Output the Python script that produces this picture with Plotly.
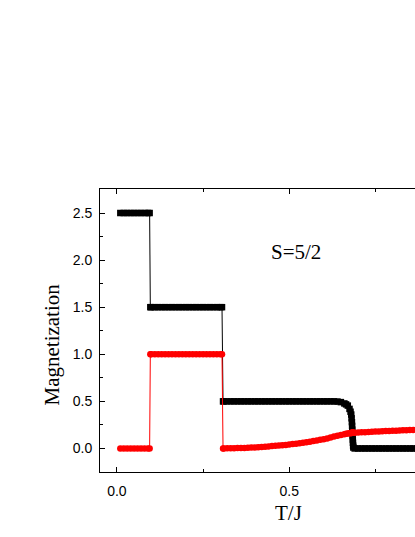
import plotly.graph_objects as go

# temperature points T/J
t_over_j = [0.01, 0.02, 0.03, 0.04, 0.05, 0.06, 0.07, 0.08, 0.09, 0.095,
            0.097, 0.10, 0.11, 0.12, 0.13, 0.14, 0.15, 0.16, 0.17, 0.18, 0.19, 0.20,
            0.21, 0.22, 0.23, 0.24, 0.25, 0.26, 0.27, 0.28, 0.29, 0.30, 0.305,
            0.308, 0.31, 0.32, 0.33, 0.34, 0.35, 0.36, 0.37, 0.38, 0.39, 0.40,
            0.41, 0.42, 0.43, 0.44, 0.45, 0.46, 0.47, 0.48, 0.49, 0.50,
            0.51, 0.52, 0.53, 0.54, 0.55, 0.56, 0.57, 0.58, 0.59, 0.60,
            0.61, 0.62, 0.63, 0.64, 0.65, 0.66, 0.665, 0.67, 0.675, 0.678, 0.68,
            0.681, 0.682, 0.6825, 0.683, 0.6835, 0.684, 0.6845, 0.685, 0.6855, 0.686,
            0.69, 0.70, 0.71, 0.72, 0.73, 0.74,
            0.75, 0.76, 0.77, 0.78, 0.79, 0.80, 0.81, 0.82, 0.83, 0.84,
            0.85, 0.86, 0.87]

# black squares
mag_black = [2.5, 2.5, 2.5, 2.5, 2.5, 2.5, 2.5, 2.5, 2.5, 2.5,
             1.5, 1.5, 1.5, 1.5, 1.5, 1.5, 1.5, 1.5, 1.5, 1.5, 1.5, 1.5,
             1.5, 1.5, 1.5, 1.5, 1.5, 1.5, 1.5, 1.5, 1.5, 1.5, 1.5,
             0.5, 0.5, 0.5, 0.5, 0.5, 0.5, 0.5, 0.5, 0.5, 0.5, 0.5,
             0.5, 0.5, 0.5, 0.5, 0.5, 0.5, 0.5, 0.5, 0.5, 0.5,
             0.5, 0.5, 0.5, 0.5, 0.5, 0.5, 0.5, 0.5, 0.5, 0.5,
             0.5, 0.5, 0.5, 0.498, 0.492, 0.478, 0.468, 0.455, 0.42, 0.39, 0.36,
             0.32, 0.28, 0.24, 0.20, 0.165, 0.13, 0.095, 0.06, 0.03, 0.01,
             0.0, 0.0, 0.0, 0.0, 0.0, 0.0,
             0.0, 0.0, 0.0, 0.0, 0.0, 0.0, 0.0, 0.0, 0.0, 0.0,
             0.0, 0.0, 0.0]

# red circles
mag_red = [0.0, 0.0, 0.0, 0.0, 0.0, 0.0, 0.0, 0.0, 0.0, 0.0,
           1.0, 1.0, 1.0, 1.0, 1.0, 1.0, 1.0, 1.0, 1.0, 1.0, 1.0, 1.0,
           1.0, 1.0, 1.0, 1.0, 1.0, 1.0, 1.0, 1.0, 1.0, 1.0, 1.0,
           0.0, 0.0, 0.001, 0.002, 0.003, 0.004, 0.005, 0.006, 0.007, 0.009, 0.011,
           0.013, 0.016, 0.019, 0.022, 0.025, 0.028, 0.031, 0.035, 0.038, 0.042,
           0.046, 0.050, 0.055, 0.060, 0.066, 0.072, 0.078, 0.085, 0.092, 0.099,
           0.107, 0.116, 0.126, 0.135, 0.144, 0.152, 0.156, 0.159, 0.162, 0.164, 0.165,
           0.165, 0.166, 0.166, 0.166, 0.166, 0.166, 0.166, 0.166, 0.166, 0.166,
           0.167, 0.169, 0.171, 0.173, 0.175, 0.177,
           0.179, 0.181, 0.183, 0.185, 0.186, 0.188, 0.189, 0.191, 0.192, 0.194,
           0.195, 0.197, 0.198]

serif = "Liberation Serif, Times New Roman, serif"
sans = "Liberation Sans, Arial, sans-serif"

fig = go.Figure()
fig.add_trace(go.Scatter(
    x=t_over_j, y=mag_black, mode="lines+markers",
    line=dict(color="black", width=1),
    marker=dict(symbol="square", size=6.5, color="black"),
    showlegend=False,
))
fig.add_trace(go.Scatter(
    x=t_over_j, y=mag_red, mode="lines+markers",
    line=dict(color="red", width=1),
    marker=dict(symbol="circle", size=6.5, color="red"),
    showlegend=False,
))

axis_common = dict(
    showline=True, linecolor="black", linewidth=1,
    ticks="inside", ticklen=5, tickcolor="black", tickwidth=1,
    showgrid=False, zeroline=False,
    tickfont=dict(family=sans, size=14, color="black"),
)

fig.update_layout(
    width=415, height=537,
    margin=dict(l=100, r=0, t=189, b=65),
    paper_bgcolor="white", plot_bgcolor="white",
    xaxis=dict(range=[-0.049, 0.865], tickvals=[0.0, 0.5, 1.0], ticktext=["0.0", "0.5", "1.0"],
               minor=dict(tickvals=[0.25, 0.75], ticks="inside", ticklen=3, tickcolor="black"),
               ticklabelstandoff=6, mirror="ticks", **axis_common),
    yaxis=dict(range=[-0.25, 2.755], tickvals=[0.0, 0.5, 1.0, 1.5, 2.0, 2.5],
               ticktext=["0.0", "0.5", "1.0", "1.5", "2.0", "2.5"],
               minor=dict(tickvals=[-0.25, 0.25, 0.75, 1.25, 1.75, 2.25, 2.75], ticks="inside",
                          ticklen=3, tickcolor="black"),
               ticklabelstandoff=4, mirror=False, **axis_common),
    annotations=[
        dict(text="S=5/2", x=0.519, y=2.086, xref="x", yref="y", showarrow=False,
             xanchor="center", yanchor="middle",
             font=dict(family=serif, size=21, color="black")),
        dict(text="T/J", x=0.597, y=-0.146, xref="paper", yref="paper", showarrow=False,
             xanchor="center", yanchor="middle",
             font=dict(family=serif, size=21, color="black")),
        dict(text="Magnetization", x=-0.151, y=0.452, xref="paper", yref="paper",
             showarrow=False, textangle=-90, xanchor="center", yanchor="middle",
             font=dict(family=serif, size=21, color="black")),
    ],
)

# drop the default page margin so the figure sits at the window corner
fig.write_html("out.html", config={"displayModeBar": False},
               post_script="document.body.style.margin='0';")
